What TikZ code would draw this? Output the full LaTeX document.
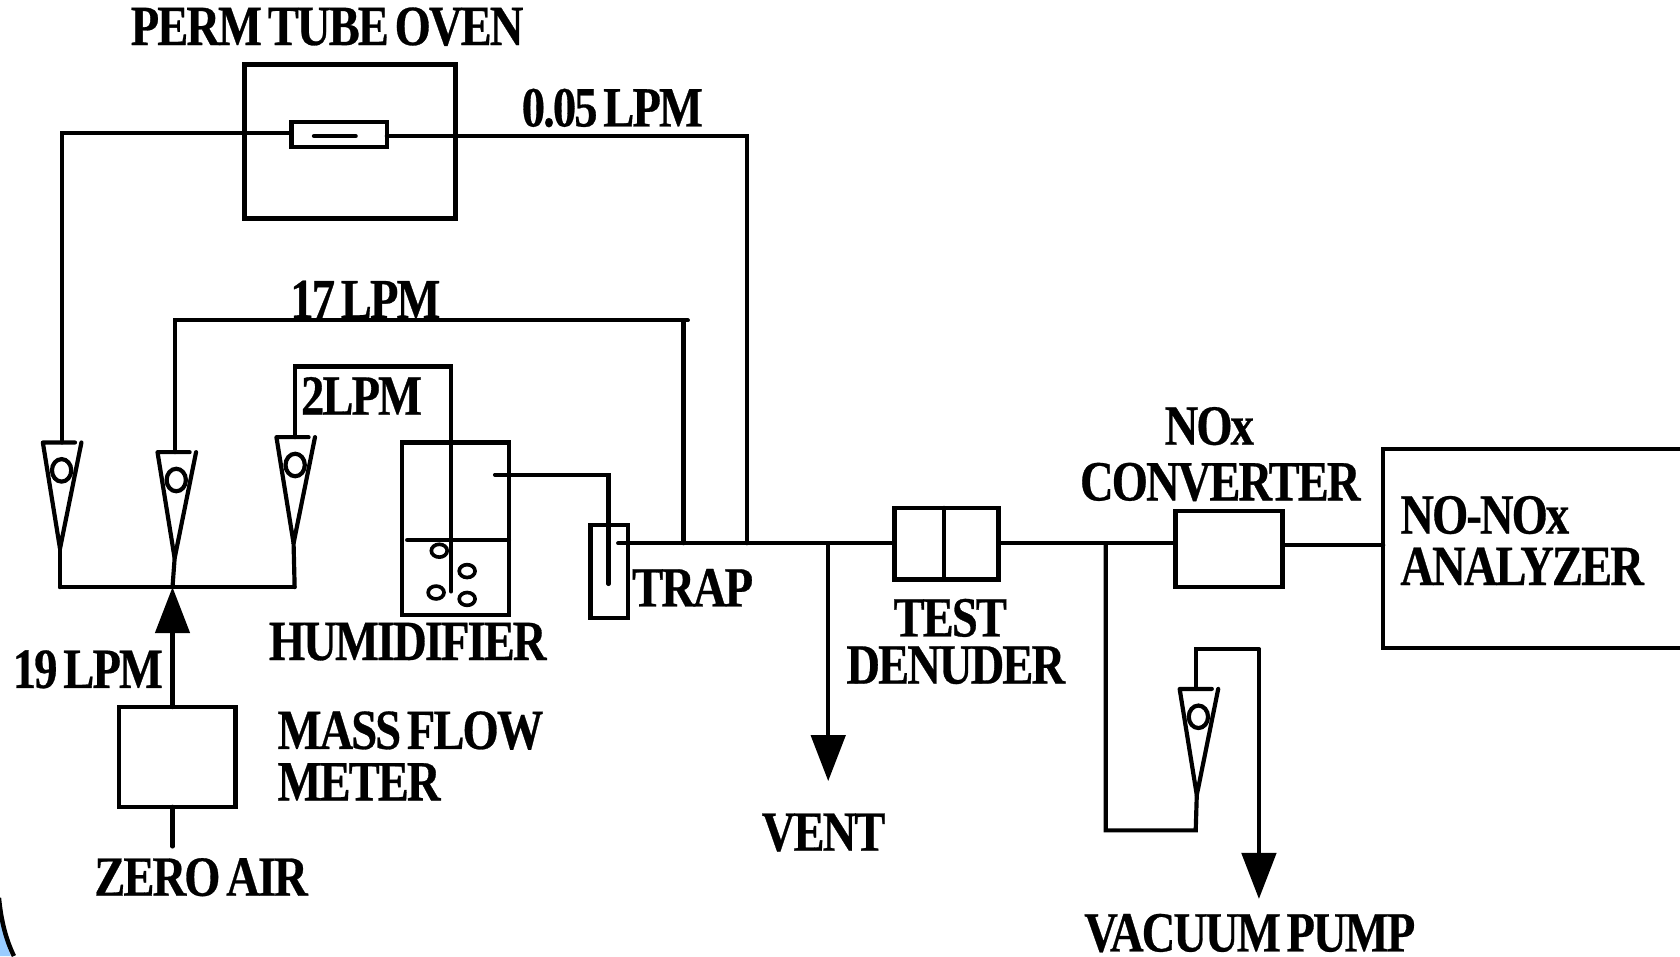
\documentclass[tikz,border=0pt]{standalone}
\usepackage{fontspec}
\usetikzlibrary{arrows.meta}
\newfontfamily\lab[FakeStretch=.82,LetterSpace=-3.4,WordSpace=.6,FakeBold=0.5]{Liberation Serif}
\definecolor{cornerblue}{RGB}{153,204,255}
\tikzset{
  x=0.5pt,y=-0.5pt,
  flow/.style={line width=1.95pt,line cap=round,line join=miter},
  box/.style={draw,line width=2.1pt,inner sep=0pt,outer sep=0pt,fill=none},
  arrowhd/.style={-{Triangle[length=21.5pt,width=16pt]}},
  lbl/.style={anchor=base west,inner sep=0pt,outer sep=0pt,font=\lab\bfseries\fontsize{26.5pt}{30pt}\selectfont},
  bubble/.style={draw,ellipse,line width=1.7pt,minimum width=7.4pt,minimum height=6pt,inner sep=0pt},
  rotameter/.pic={
    \draw[flow,line join=round] (30,0) -- (0,0) -- (16,99) -- (36,0);
    \draw[flow] (17.5,26) ellipse [x radius=9,y radius=10.5];
    \coordinate (-tip) at (16,99);
  }
}
\usetikzlibrary{shapes.geometric}
\begin{document}
\begin{tikzpicture}
\useasboundingbox (0,0) rectangle (1568,892.27);
% corner decoration
\fill[cornerblue] (0,846) .. controls (2,865) and (5,880) .. (10,892.27) -- (0,892.27) -- cycle;
\draw[line width=2.1pt] (-1,838) .. controls (1,860) and (6,878) .. (13,892.27);

% boxes
\node[box,minimum width=98.5pt,minimum height=72pt] (oven) at (326.5,132) {};
\node[box,minimum width=44.5pt,minimum height=11.5pt] (tube) at (316.5,125.5) {};
\node[box,minimum width=54.5pt,minimum height=46.5pt] (mfm) at (165.5,706.5) {};
\node[box,minimum width=50pt,minimum height=80.5pt] (hum) at (425,493.5) {};
\node[box,minimum width=17.5pt,minimum height=43.5pt] (trap) at (568.5,533.5) {};
\node[box,minimum width=48.5pt,minimum height=33.5pt] (den) at (883.5,507.5) {};
\node[box,minimum width=50pt,minimum height=35.5pt] (conv) at (1147,512.5) {};

% rotameters
\pic (ra) at (40,413) {rotameter};
\pic (rb) at (147,422) {rotameter};
\pic (rc) at (258,408) {rotameter};
\pic (rd) at (1101,643) {rotameter};

% named points
\coordinate (tubeL) at (272,124);
\coordinate (tubeR) at (361,127);
\coordinate (raT) at (58,413);
\coordinate (rbT) at (163,422);
\coordinate (rcT) at (275,408);
\coordinate (rdT) at (1116,643);
\coordinate (mainS) at (577,507);
\coordinate (denL) at (835,507);
\coordinate (denR) at (932,507);
\coordinate (convL) at (1097,507);
\coordinate (convR) at (1197,509);
\coordinate (anaL) at (1291,509);
\coordinate (j05) at (697,507);
\coordinate (j17) at (638,507);
\coordinate (jv) at (773,507);
\coordinate (jb) at (1032,507);
\coordinate (ventE) at (773,729);
\coordinate (manL) at (56,548);
\coordinate (manC) at (161,548);
\coordinate (manR) at (275,548);
\coordinate (dipB) at (421,552);
\coordinate (dipT) at (421,342);
\coordinate (humO) at (462,443);
\coordinate (trapI) at (568,545);
\coordinate (top17) at (642,299);
\coordinate (airS) at (161,790);
\coordinate (vacU) at (1175,606);
\coordinate (vacE) at (1175,839);
\coordinate (loopC) at (1032,775);
\coordinate (loopR) at (1116,775);
\coordinate (divT) at (881,474);
\coordinate (divB) at (881,541);

% denuder divider
\draw[flow] (divT) -- (divB);
% tube element
\coordinate (tubeA) at (293,127);
\coordinate (tubeB) at (332,127);
\draw[flow] (tubeA) -- (tubeB);

% connectors
\draw[flow] (raT) |- (tubeL);
\draw[flow] (tubeR) -| (j05);
\draw[flow] (rbT) |- (top17);
\draw[flow] (j17 |- top17) -- (j17);
\draw[flow] (rcT) |- (dipT) -- (dipB);
\draw[flow] (humO) -| (trapI);
\draw[flow] (mainS) -- (denL);
\draw[flow] (denR) -- (convL);
\draw[flow] (convR) -- (anaL);
\draw[flow,arrowhd] (jv) -- (ventE);
\draw[flow] (jb) -- (loopC) -- (loopR) -- (rd-tip);
\draw[flow] (rdT) -- (rdT |- vacU) -- (vacU);
\draw[flow,arrowhd] (vacU) -- (vacE);
\draw[flow] (ra-tip) -- (manL);
\draw[flow] (rb-tip) -- (manC);
\draw[flow] (rc-tip) -- (manR);
\draw[flow] (manL) -- (manR);
\draw[flow,arrowhd] (mfm.north -| manC) -- (manC);
\draw[flow] (mfm.south -| manC) -- (airS);
\draw[flow] (380,504) -- (hum.east |- 0,504);

% bubbles
\node[bubble] (b1) at (410,514) {};
\node[bubble] (b2) at (436,533) {};
\node[bubble] (b3) at (407,553) {};
\node[bubble] (b4) at (436,559) {};

% analyzer
\draw[box] (1570,419) -- (1291,419) -- (1291,605) -- (1570,605);

% labels
\node[lbl] (l1) at (122,42) {PERM TUBE OVEN};
\node[lbl] (l2) at (487,118) {0.05 LPM};
\node[lbl] (l3) at (271,297) {17 LPM};
\node[lbl] (l4) at (281,387) {2LPM};
\node[lbl] (l5) at (590,566) {TRAP};
\node[lbl] (l6) at (251,616) {HUMIDIFIER};
\node[lbl] (l7) at (12,642) {19 LPM};
\node[lbl] (l8) at (259,699) {MASS FLOW};
\node[lbl] (l9) at (259,747) {METER};
\node[lbl] (l10) at (88,836) {ZERO AIR};
\node[lbl] (l11) at (711,794) {VENT};
\node[lbl] (l12) at (834,594) {TEST};
\node[lbl] (l13) at (790,638) {DENUDER};
\node[lbl] (l14) at (1087,415) {NOx};
\node[lbl] (l15) at (1008,467) {CONVERTER};
\node[lbl] (l16) at (1307,498) {NO-NOx};
\node[lbl] (l17) at (1307,546) {ANALYZER};
\node[lbl] (l18) at (1012,888) {VACUUM PUMP};
\end{tikzpicture}
\end{document}
